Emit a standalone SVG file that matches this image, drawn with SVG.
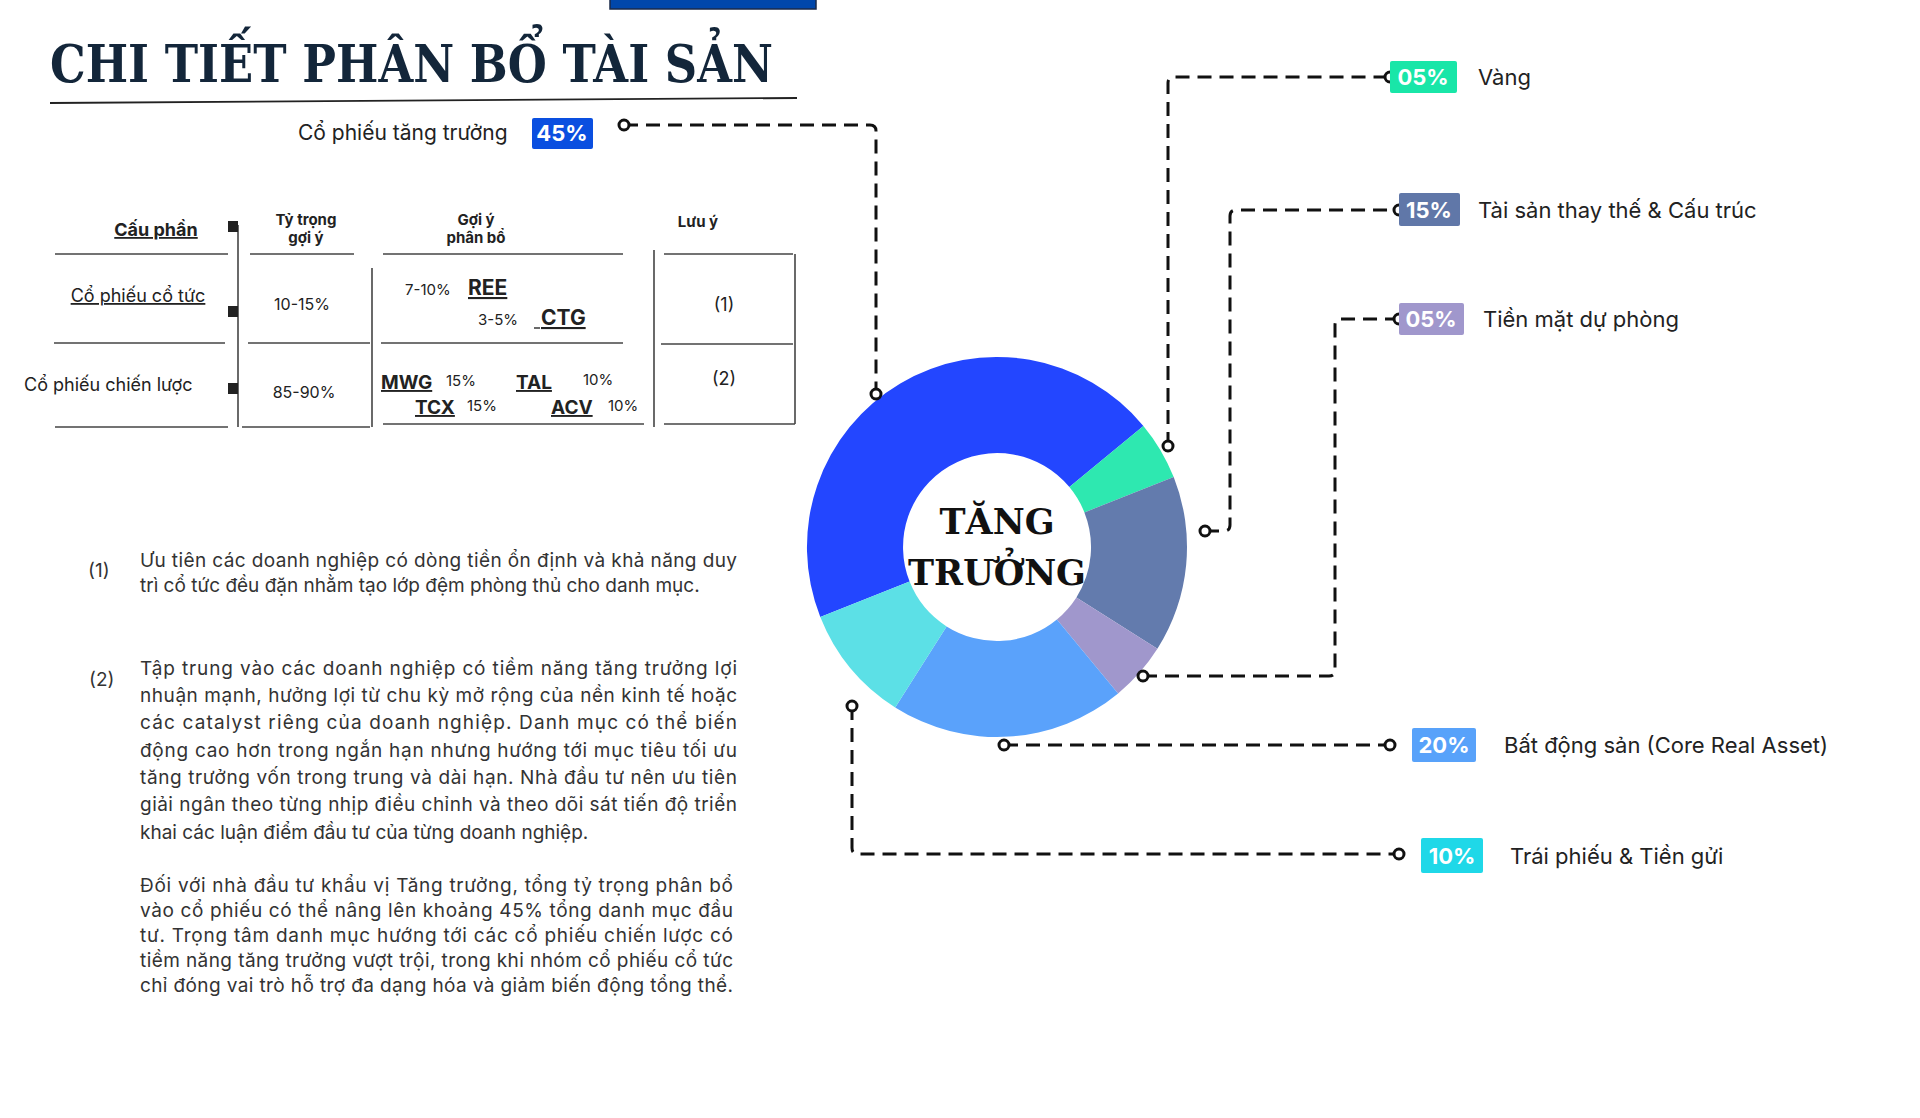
<svg xmlns="http://www.w3.org/2000/svg" width="1920" height="1118" viewBox="0 0 1920 1118">
<style>
.t{font-family:Inter,"Noto Sans","DejaVu Sans",sans-serif;fill:#222}
.p{font-family:Inter,"Noto Sans","DejaVu Sans",sans-serif;fill:#333;font-size:19px}
.h{font-size:15px;font-weight:700;text-anchor:middle}
.b{font-weight:700;text-decoration:underline}
.tl{stroke:#444;stroke-width:1.6}
.cn{fill:none;stroke:#111;stroke-width:3;stroke-dasharray:14 8}
.dot{fill:#fff;stroke:#111;stroke-width:3}
.bd{font-family:Inter,"Noto Sans",sans-serif;fill:#fff;font-weight:700;font-size:22px;text-anchor:middle}
.lb{font-family:Inter,"Noto Sans",sans-serif;fill:#222;font-size:22px}
.sq{fill:#222}
</style>
<rect x="0" y="0" width="1920" height="1118" fill="#fff"/>
<rect x="610" y="-2" width="206" height="11" fill="#0047ab" stroke="#1a2a4a" stroke-width="1.5"/>
<text x="50" y="82" font-family="'DejaVu Serif','Liberation Serif',serif" font-weight="700" font-size="52" fill="#13263a" textLength="723" lengthAdjust="spacingAndGlyphs">CHI TIẾT PHÂN BỔ TÀI SẢN</text>
<line x1="50" y1="103" x2="797" y2="98" stroke="#222" stroke-width="1.8"/>

<g id="node-growth-stock">
<text class="t" x="298" y="140" font-size="21">Cổ phiếu tăng trưởng</text>
<rect x="532" y="118" width="61" height="31" rx="2" fill="#0a4fe0"/>
<text class="bd" x="562" y="141">45%</text>
</g>

<g id="table">
<line class="tl" x1="55" y1="254" x2="228" y2="254"/><line class="tl" x1="250" y1="254" x2="354" y2="254"/>
<line class="tl" x1="383" y1="254" x2="623" y2="254"/><line class="tl" x1="664" y1="254" x2="793" y2="254"/>
<line class="tl" x1="54" y1="343" x2="225" y2="343"/><line class="tl" x1="248" y1="343" x2="370" y2="343"/>
<line class="tl" x1="381" y1="343" x2="623" y2="343"/><line class="tl" x1="661" y1="344" x2="793" y2="344"/>
<line class="tl" x1="55" y1="427" x2="228" y2="427"/><line class="tl" x1="242" y1="427" x2="370" y2="427"/>
<line class="tl" x1="383" y1="424" x2="644" y2="424"/><line class="tl" x1="664" y1="424" x2="795" y2="424"/>
<line class="tl" x1="238" y1="225" x2="238" y2="427"/><line class="tl" x1="372" y1="268" x2="372" y2="427"/>
<line class="tl" x1="654" y1="250" x2="654" y2="427"/><line class="tl" x1="795" y1="254" x2="795" y2="424"/>
<rect class="sq" x="228" y="221" width="10" height="11"/><rect class="sq" x="228" y="306" width="10" height="11"/><rect class="sq" x="228" y="383" width="10" height="11"/>
<text class="t b" x="156" y="236" font-size="18" text-anchor="middle">Cấu phần</text>
<text class="t h" x="306" y="225">Tỷ trọng</text><text class="t h" x="306" y="243">gợi ý</text>
<text class="t h" x="476" y="225">Gợi ý</text><text class="t h" x="476" y="243">phân bổ</text>
<text class="t h" x="698" y="227">Lưu ý</text>
<text class="t" x="138" y="302" font-size="18" text-anchor="middle" text-decoration="underline">Cổ phiếu cổ tức</text>
<text class="t" x="302" y="310" font-size="16" text-anchor="middle">10-15%</text>
<text class="t" x="405" y="295" font-size="15">7-10%</text><text class="t b" x="468" y="295" font-size="21">REE</text>
<text class="t" x="478" y="325" font-size="15">3-5%</text><text class="t b" x="541" y="325" font-size="21">CTG</text>
<line class="tl" x1="534" y1="328" x2="540" y2="328"/>
<text class="t" x="724" y="311" font-size="18" text-anchor="middle">(1)</text>
<text class="t" x="24" y="391" font-size="18">Cổ phiếu chiến lược</text>
<text class="t" x="304" y="398" font-size="16" text-anchor="middle">85-90%</text>
<text class="t b" x="381" y="389" font-size="19">MWG</text><text class="t" x="446" y="386" font-size="15">15%</text>
<text class="t b" x="516" y="389" font-size="19">TAL</text><text class="t" x="583" y="385" font-size="15">10%</text>
<text class="t b" x="415" y="414" font-size="19">TCX</text><text class="t" x="467" y="411" font-size="15">15%</text>
<text class="t b" x="551" y="414" font-size="19">ACV</text><text class="t" x="608" y="411" font-size="15">10%</text>
<text class="t" x="724" y="385" font-size="18" text-anchor="middle">(2)</text>
</g>

<g id="notes">
<text class="p" x="88" y="577">(1)</text>
<text class="p" x="140" y="567" textLength="597" lengthAdjust="spacing">Ưu tiên các doanh nghiệp có dòng tiền ổn định và khả năng duy</text>
<text class="p" x="140" y="592">trì cổ tức đều đặn nhằm tạo lớp đệm phòng thủ cho danh mục.</text>
<text class="p" x="89" y="686">(2)</text>
<text class="p" x="140" y="675" textLength="597" lengthAdjust="spacing">Tập trung vào các doanh nghiệp có tiềm năng tăng trưởng lợi</text>
<text class="p" x="140" y="702" textLength="597" lengthAdjust="spacing">nhuận mạnh, hưởng lợi từ chu kỳ mở rộng của nền kinh tế hoặc</text>
<text class="p" x="140" y="729" textLength="597" lengthAdjust="spacing">các catalyst riêng của doanh nghiệp. Danh mục có thể biến</text>
<text class="p" x="140" y="757" textLength="597" lengthAdjust="spacing">động cao hơn trong ngắn hạn nhưng hướng tới mục tiêu tối ưu</text>
<text class="p" x="140" y="784" textLength="597" lengthAdjust="spacing">tăng trưởng vốn trong trung và dài hạn. Nhà đầu tư nên ưu tiên</text>
<text class="p" x="140" y="811" textLength="597" lengthAdjust="spacing">giải ngân theo từng nhịp điều chỉnh và theo dõi sát tiến độ triển</text>
<text class="p" x="140" y="839">khai các luận điểm đầu tư của từng doanh nghiệp.</text>
<text class="p" x="140" y="892" textLength="593" lengthAdjust="spacing">Đối với nhà đầu tư khẩu vị Tăng trưởng, tổng tỷ trọng phân bổ</text>
<text class="p" x="140" y="917" textLength="593" lengthAdjust="spacing">vào cổ phiếu có thể nâng lên khoảng 45% tổng danh mục đầu</text>
<text class="p" x="140" y="942" textLength="593" lengthAdjust="spacing">tư. Trọng tâm danh mục hướng tới các cổ phiếu chiến lược có</text>
<text class="p" x="140" y="967" textLength="593" lengthAdjust="spacing">tiềm năng tăng trưởng vượt trội, trong khi nhóm cổ phiếu cổ tức</text>
<text class="p" x="140" y="992" textLength="593" lengthAdjust="spacing">chỉ đóng vai trò hỗ trợ đa dạng hóa và giảm biến động tổng thể.</text>
</g>

<g id="donut">
<path d="M820.3 616.9 A190 190 0 0 1 1143.4 425.9 L1069.4 487.1 A94 94 0 0 0 909.6 581.6 Z" fill="#2346ff"/>
<path d="M1143.4 425.9 A190 190 0 0 1 1173.7 477.1 L1084.4 512.4 A94 94 0 0 0 1069.4 487.1 Z" fill="#2ee8b0"/>
<path d="M1173.7 477.1 A190 190 0 0 1 1157.4 648.8 L1076.4 597.4 A94 94 0 0 0 1084.4 512.4 Z" fill="#637bad"/>
<path d="M1157.4 648.8 A190 190 0 0 1 1118.1 693.4 L1056.9 619.4 A94 94 0 0 0 1076.4 597.4 Z" fill="#a097cc"/>
<path d="M1118.1 693.4 A190 190 0 0 1 895.2 707.4 L946.6 626.4 A94 94 0 0 0 1056.9 619.4 Z" fill="#5aa2fb"/>
<path d="M895.2 707.4 A190 190 0 0 1 820.3 616.9 L909.6 581.6 A94 94 0 0 0 946.6 626.4 Z" fill="#5ce0e6"/>
<text x="997" y="534" font-family="'DejaVu Serif','Liberation Serif',serif" font-weight="700" font-size="35" fill="#111" text-anchor="middle">TĂNG</text>
<text x="997" y="585" font-family="'DejaVu Serif','Liberation Serif',serif" font-weight="700" font-size="35" fill="#111" text-anchor="middle">TRƯỞNG</text>
</g>

<g id="connectors">
<path class="cn" d="M624 125 H870 Q876 125 876 131 V394"/>
<path class="cn" d="M1168 446 V83 Q1168 77 1174 77 H1390"/>
<path class="cn" d="M1205 531 H1224 Q1230 531 1230 525 V216 Q1230 210 1236 210 H1399"/>
<path class="cn" d="M1143 676 H1329 Q1335 676 1335 670 V325 Q1335 319 1341 319 H1399"/>
<path class="cn" d="M1004 745 H1390"/>
<path class="cn" d="M852 706 V848 Q852 854 858 854 H1399"/>
<circle class="dot" cx="624" cy="125" r="5"/><circle class="dot" cx="876" cy="394" r="5"/>
<circle class="dot" cx="1168" cy="446" r="5"/><circle class="dot" cx="1390" cy="77" r="5"/>
<circle class="dot" cx="1205" cy="531" r="5"/><circle class="dot" cx="1399" cy="210" r="5"/>
<circle class="dot" cx="1143" cy="676" r="5"/><circle class="dot" cx="1399" cy="319" r="5"/>
<circle class="dot" cx="1004" cy="745" r="5"/><circle class="dot" cx="1390" cy="745" r="5"/>
<circle class="dot" cx="852" cy="706" r="5"/><circle class="dot" cx="1399" cy="854" r="5"/>
</g>

<g id="node-gold"><rect x="1390" y="61" width="67" height="32" rx="2" fill="#19e6a8"/><text class="bd" x="1423" y="85">05%</text><text class="lb" x="1478" y="85">Vàng</text></g>
<g id="node-alt"><rect x="1399" y="193" width="61" height="33" rx="2" fill="#6077a8"/><text class="bd" x="1429" y="218">15%</text><text class="lb" x="1478" y="218">Tài sản thay thế &amp; Cấu trúc</text></g>
<g id="node-cash"><rect x="1399" y="303" width="65" height="32" rx="2" fill="#a097cc"/><text class="bd" x="1431" y="327">05%</text><text class="lb" x="1483" y="327">Tiền mặt dự phòng</text></g>
<g id="node-realestate"><rect x="1412" y="728" width="64" height="34" rx="2" fill="#58a2fa"/><text class="bd" x="1444" y="753">20%</text><text class="lb" x="1504" y="753">Bất động sản (Core Real Asset)</text></g>
<g id="node-bonds"><rect x="1421" y="838" width="62" height="35" rx="2" fill="#1fd8e8"/><text class="bd" x="1452" y="864">10%</text><text class="lb" x="1510" y="864">Trái phiếu &amp; Tiền gửi</text></g>
</svg>
